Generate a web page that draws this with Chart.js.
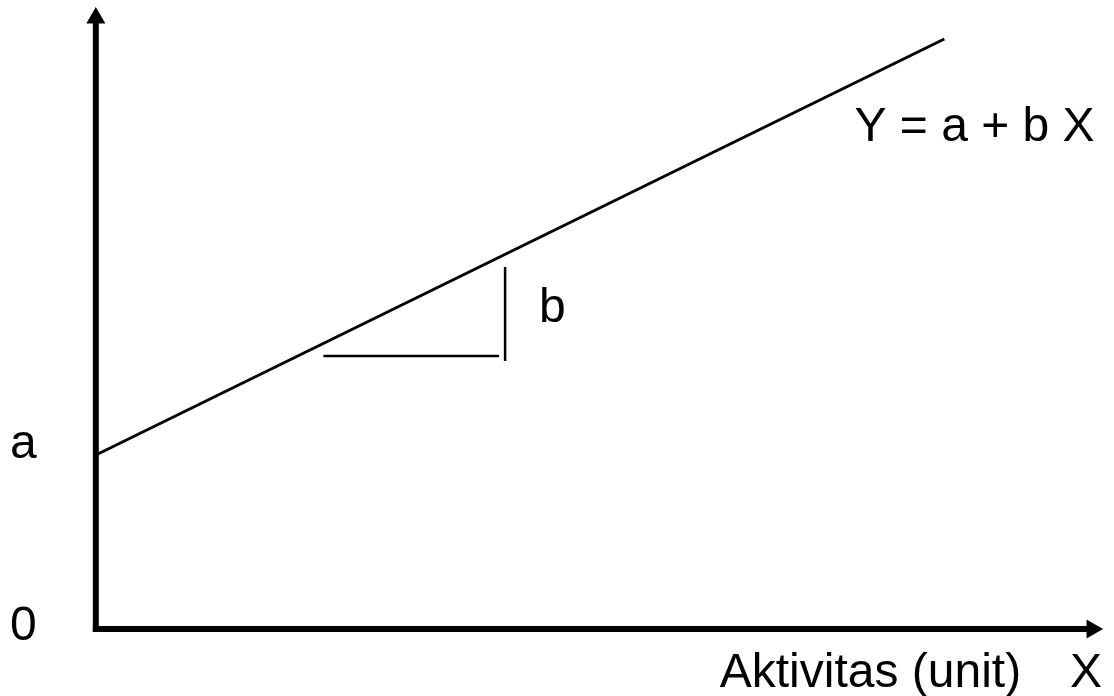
<!DOCTYPE html>
<html>
<head>
<meta charset="utf-8">
<script src="https://cdn.jsdelivr.net/npm/chart.js@4/dist/chart.umd.min.js"></script>
<style>
    body { margin: 0; background: #fff; }
    #wrap { width: 1114px; height: 696px; }
</style>
</head>
<body>
<div id="wrap"><canvas id="costLine" width="1114" height="696"></canvas></div>
<script>
// model
// garis biaya Y = a + b X
var lineX = [0, 8.5];
var lineY = [1.74, 5.9];

// segitiga kemiringan (b)
var runX = [2.28, 4.04];
var runY = [2.73, 2.73];
var riseX = [4.10, 4.10];
var riseY = [2.68, 3.62];

// sumbu
var xAxisX = [0, 9.98];
var xAxisY = [0, 0];
var yAxisX = [0, 0];
var yAxisY = [0, 6.11];

// teks dan letaknya (satuan data)
var labelText = ["a", "0", "b", "Y = a + b X", "Aktivitas (unit)", "X"];
var labelX = [-0.86, -0.86, 4.44, 7.6, 6.25, 9.76];
var labelY = [1.71, -0.11, 3.07, 4.88, -0.58, -0.58];

function toPoints(xs, ys) {
    var pts = [];
    for (var i = 0; i < xs.length; i++) {
        pts.push({ x: xs[i], y: ys[i] });
    }
    return pts;
}

var textPlugin = {
    id: 'textLabels',
    afterDraw: function (chart) {
        var ctx = chart.ctx;
        var sx = chart.scales.x, sy = chart.scales.y;
        ctx.save();
        ctx.fillStyle = '#000';
        ctx.font = '48px "Liberation Sans", Arial, sans-serif';
        ctx.textAlign = 'left';
        ctx.textBaseline = 'alphabetic';
        for (var i = 0; i < labelText.length; i++) {
            ctx.fillText(labelText[i], sx.getPixelForValue(labelX[i]), sy.getPixelForValue(labelY[i]));
        }
        ctx.restore();
    }
};

var ctx = document.getElementById('costLine');
var costChart = new Chart(ctx, {
    type: 'scatter',
    data: {
        datasets: [{
            data: toPoints(yAxisX, yAxisY),
            showLine: true,
            borderColor: '#000',
            borderWidth: 6,
            borderCapStyle: 'square',
            pointRadius: [0, 11],
            pointStyle: 'triangle',
            pointBackgroundColor: '#000',
            pointBorderWidth: 0
        }, {
            data: toPoints(xAxisX, xAxisY),
            showLine: true,
            borderColor: '#000',
            borderWidth: 6,
            borderCapStyle: 'square',
            pointRadius: [0, 11],
            pointStyle: 'triangle',
            pointRotation: 90,
            pointBackgroundColor: '#000',
            pointBorderWidth: 0
        }, {
            data: toPoints(lineX, lineY),
            showLine: true,
            borderColor: '#000',
            borderWidth: 3,
            pointRadius: 0
        }, {
            data: toPoints(runX, runY),
            showLine: true,
            borderColor: '#000',
            borderWidth: 2.5,
            pointRadius: 0
        }, {
            data: toPoints(riseX, riseY),
            showLine: true,
            borderColor: '#000',
            borderWidth: 2.5,
            pointRadius: 0
        }]
    },
    options: {
        responsive: false,
        animation: false,
        clip: false,
        layout: { padding: 0, autoPadding: false },
        plugins: {
            legend: { display: false },
            tooltip: { enabled: false }
        },
        scales: {
            x: { type: 'linear', min: -0.96, max: 10.2, display: false },
            y: { type: 'linear', min: -0.67, max: 6.29, display: false }
        }
    },
    plugins: [textPlugin]
});
</script>
</body>
</html>
